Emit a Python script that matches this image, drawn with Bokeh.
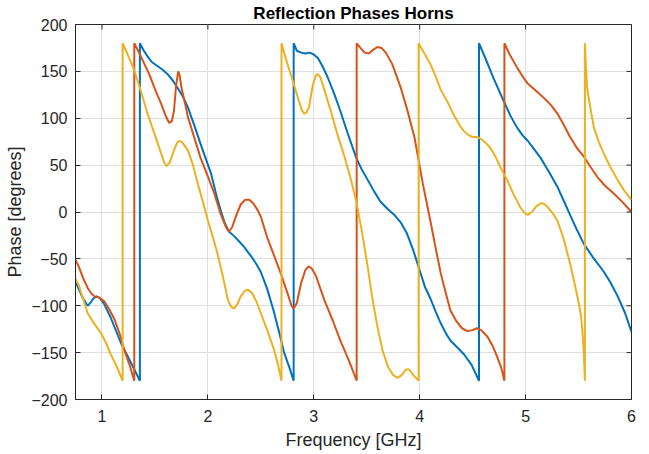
import math
from bokeh.plotting import figure
from bokeh.models import Range1d, FixedTicker
from bokeh.embed import file_html
from bokeh.resources import INLINE

# ---- data (frequency GHz, wrapped phase degrees) ----
blue_f = [0.75, 0.78, 0.82, 0.865, 0.89, 0.92, 0.95, 0.98, 1.02, 1.08, 1.18, 1.27, 1.358,
          1.358, 1.39, 1.43, 1.47, 1.52, 1.57, 1.62, 1.67, 1.71, 1.76, 1.81, 1.87, 1.93,
          1.98, 2.03, 2.08, 2.12, 2.16, 2.20, 2.25, 2.30, 2.34, 2.38, 2.42, 2.46, 2.50,
          2.56, 2.62, 2.67, 2.72, 2.77, 2.81,
          2.81, 2.84, 2.88, 2.92, 2.96, 3.00, 3.04, 3.08, 3.13, 3.19, 3.25, 3.32, 3.40,
          3.45, 3.51, 3.57, 3.63, 3.70, 3.76, 3.82, 3.88, 3.94, 4.01, 4.05, 4.10, 4.15,
          4.20, 4.25, 4.29, 4.36, 4.42, 4.49, 4.56,
          4.56, 4.62, 4.70, 4.79, 4.86, 4.92, 4.97, 5.02, 5.08, 5.14, 5.22, 5.30, 5.36,
          5.42, 5.48, 5.55, 5.64, 5.74, 5.80, 5.87, 5.94, 6.00]
blue_p = [-75, -82, -92, -100, -97, -92, -90, -92, -98, -112, -140, -160, -180,
          180, 173, 166, 160, 156, 152, 147, 140, 133, 124, 112, 93, 73,
          57, 41, 18, 2, -12, -21, -26, -32, -37, -43, -49, -56, -64,
          -82, -105, -127, -150, -166, -180,
          180, 172, 170, 169, 170, 168, 164, 156, 144, 127, 108, 84, 58,
          46, 34, 22, 11, 3, -3, -11, -23, -41, -66, -80, -92, -106,
          -119, -130, -137, -145, -152, -163, -180,
          180, 164, 142, 119, 102, 90, 82, 76, 67, 58, 43, 27, 12,
          -3, -18, -34, -49, -64, -75, -90, -108, -128]

red_f = [0.75, 0.78, 0.82, 0.865, 0.90, 0.93, 0.97, 1.02, 1.07, 1.12, 1.17, 1.21, 1.26, 1.305,
         1.305, 1.35, 1.40, 1.45, 1.50, 1.56, 1.60, 1.635, 1.66, 1.68, 1.70, 1.72, 1.735,
         1.75, 1.78, 1.81, 1.87, 1.93, 2.00, 2.06, 2.12, 2.17, 2.20, 2.23, 2.27, 2.31,
         2.35, 2.39, 2.43, 2.47, 2.50, 2.56, 2.62, 2.69, 2.75, 2.79, 2.81, 2.84, 2.88,
         2.92, 2.95, 2.98, 3.02, 3.10, 3.18, 3.25, 3.33, 3.405,
         3.405, 3.44, 3.48, 3.52, 3.56, 3.60, 3.64, 3.68, 3.74, 3.82, 3.88, 3.95, 4.03,
         4.10, 4.15, 4.20, 4.25, 4.29, 4.35, 4.40, 4.45, 4.50, 4.54, 4.58, 4.64, 4.69,
         4.73, 4.77, 4.80,
         4.80, 4.85, 4.92, 4.97, 5.02, 5.10, 5.17, 5.24, 5.30, 5.36, 5.42, 5.48, 5.55,
         5.62, 5.68, 5.75, 5.83, 5.92, 6.00]
red_p = [-51, -58, -70, -81, -87, -90, -91, -95, -104, -115, -131, -147, -163, -180,
         180, 170, 158, 146, 131, 115, 103, 95, 97, 108, 135, 150, 145,
         133, 118, 102, 80, 58, 38, 20, -2, -16, -21, -16, -3, 8,
         13, 13, 9, 2, -5, -27, -45, -66, -86, -100, -103, -97, -76,
         -62, -58, -60, -68, -94, -116, -137, -158, -180,
         180, 175, 170, 169, 173, 176, 175, 170, 158, 133, 110, 80, 30,
         -9, -38, -66, -88, -105, -117, -124, -127, -126, -124, -126, -133, -143,
         -154, -166, -180,
         180, 168, 154, 145, 137, 129, 122, 114, 105, 93, 80, 69, 59,
         47, 37, 28, 20, 10, 0]

yel_f = [0.75, 0.78, 0.82, 0.865, 0.92, 0.99, 1.04, 1.08, 1.14, 1.195,
         1.195, 1.25, 1.305, 1.37, 1.43, 1.50, 1.56, 1.59, 1.61, 1.64, 1.68, 1.71, 1.73,
         1.76, 1.81, 1.86, 1.90, 1.95, 2.00, 2.05, 2.09, 2.14, 2.19, 2.22, 2.25, 2.28,
         2.31, 2.35, 2.38, 2.42, 2.46, 2.50, 2.56, 2.625, 2.66, 2.695,
         2.695, 2.74, 2.81, 2.86, 2.89, 2.91, 2.93, 2.955, 2.99, 3.02, 3.04, 3.065, 3.10,
         3.16, 3.22, 3.29, 3.35, 3.40, 3.45, 3.51, 3.55, 3.60, 3.65, 3.70, 3.75, 3.79,
         3.83, 3.87, 3.90, 3.94, 3.99,
         3.99, 4.04, 4.10, 4.15, 4.20, 4.26, 4.32, 4.38, 4.42, 4.46, 4.50, 4.54, 4.58,
         4.63, 4.67, 4.72, 4.77, 4.83, 4.89, 4.95, 4.99, 5.02, 5.06, 5.10, 5.14, 5.17,
         5.21, 5.26, 5.30, 5.36, 5.42, 5.47, 5.50, 5.52, 5.535, 5.55, 5.56,
         5.56, 5.57, 5.58, 5.61, 5.645, 5.69, 5.74, 5.80, 5.87, 5.93, 6.00]
yel_p = [-71, -78, -92, -108, -118, -129, -140, -151, -165, -180,
         180, 166, 151, 128, 105, 82, 62, 52, 49, 53, 66, 74, 76,
         74, 66, 50, 32, 12, -9, -28, -44, -68, -94, -101, -103, -98,
         -90, -84, -83, -87, -96, -108, -126, -147, -162, -180,
         180, 162, 137, 118, 108, 105, 106, 112, 135, 146, 147, 143, 130,
         108, 84, 59, 35, 12, -18, -59, -90, -122, -148, -165, -174, -177,
         -174, -168, -168, -174, -180,
         180, 170, 158, 145, 130, 118, 104, 92, 86, 82, 80, 80, 78,
         73, 68, 58, 46, 33, 18, 5, -1, -3, 0, 6, 9, 9,
         5, -2, -9, -29, -55, -80, -96, -108, -125, -150, -180,
         180, 155, 133, 112, 90, 75, 62, 48, 34, 23, 13]

x_ticks = [1, 2, 3, 4, 5, 6]
y_ticks = [-200, -150, -100, -50, 0, 50, 100, 150, 200]
x_min, x_max = 0.75, 6
y_min, y_max = -200, 200

title_text = "Reflection Phases Horns"
x_label = "Frequency [GHz]"
y_label = "Phase [degrees]"

FONT = "Liberation Sans"
AX = "#262626"

p = figure(width=641, height=452, x_range=Range1d(x_min, x_max), y_range=Range1d(y_min, y_max),
           output_backend="svg", toolbar_location=None,
           min_border_left=75, min_border_right=10, min_border_top=24, min_border_bottom=51)
p.outline_line_color = AX
p.outline_line_width = 1
p.background_fill_color = "white"
p.border_fill_color = "white"

p.title.text = title_text
p.title.align = "center"
p.title.text_font = FONT
p.title.text_font_size = "17px"
p.title.text_font_style = "bold"
p.title.text_color = "black"
p.title.standoff = 3
p.title.offset = 0

for ax in (p.xaxis[0], p.yaxis[0]):
    ax.axis_line_color = AX
    ax.major_tick_line_color = AX
    ax.major_tick_in = 5
    ax.major_tick_out = 0
    ax.minor_tick_line_color = None
    ax.major_label_text_font = FONT
    ax.major_label_text_font_size = "16px"
    ax.major_label_text_color = AX
    ax.axis_label_text_font = FONT
    ax.axis_label_text_font_size = "18px"
    ax.axis_label_text_font_style = "normal"
    ax.axis_label_text_color = AX

p.xaxis.ticker = FixedTicker(ticks=x_ticks)
p.yaxis.ticker = FixedTicker(ticks=y_ticks)
p.xaxis.axis_label = x_label
p.yaxis.axis_label = y_label
p.xaxis.major_label_standoff = 10
p.xaxis.axis_label_standoff = 5
p.yaxis.major_label_standoff = 8
p.yaxis.axis_label_standoff = 3

p.xgrid.ticker = FixedTicker(ticks=x_ticks)
p.ygrid.ticker = FixedTicker(ticks=y_ticks)
p.grid.grid_line_color = "#dfdfdf"
p.grid.grid_line_width = 1

p.line(blue_f, blue_p, line_color="#0072BD", line_width=2)
p.line(red_f, red_p, line_color="#D95319", line_width=2)
p.line(yel_f, yel_p, line_color="#EDB120", line_width=2)

# inward ticks on the top and right edges (half of each dash is clipped by the frame)
p.scatter(x_ticks, [y_max] * len(x_ticks), marker="dash", size=10, angle=math.pi / 2,
          line_color=AX, line_width=1)
p.scatter([x_max] * len(y_ticks), y_ticks, marker="dash", size=10,
          line_color=AX, line_width=1)

open("out.html", "w").write(file_html(p, INLINE))
